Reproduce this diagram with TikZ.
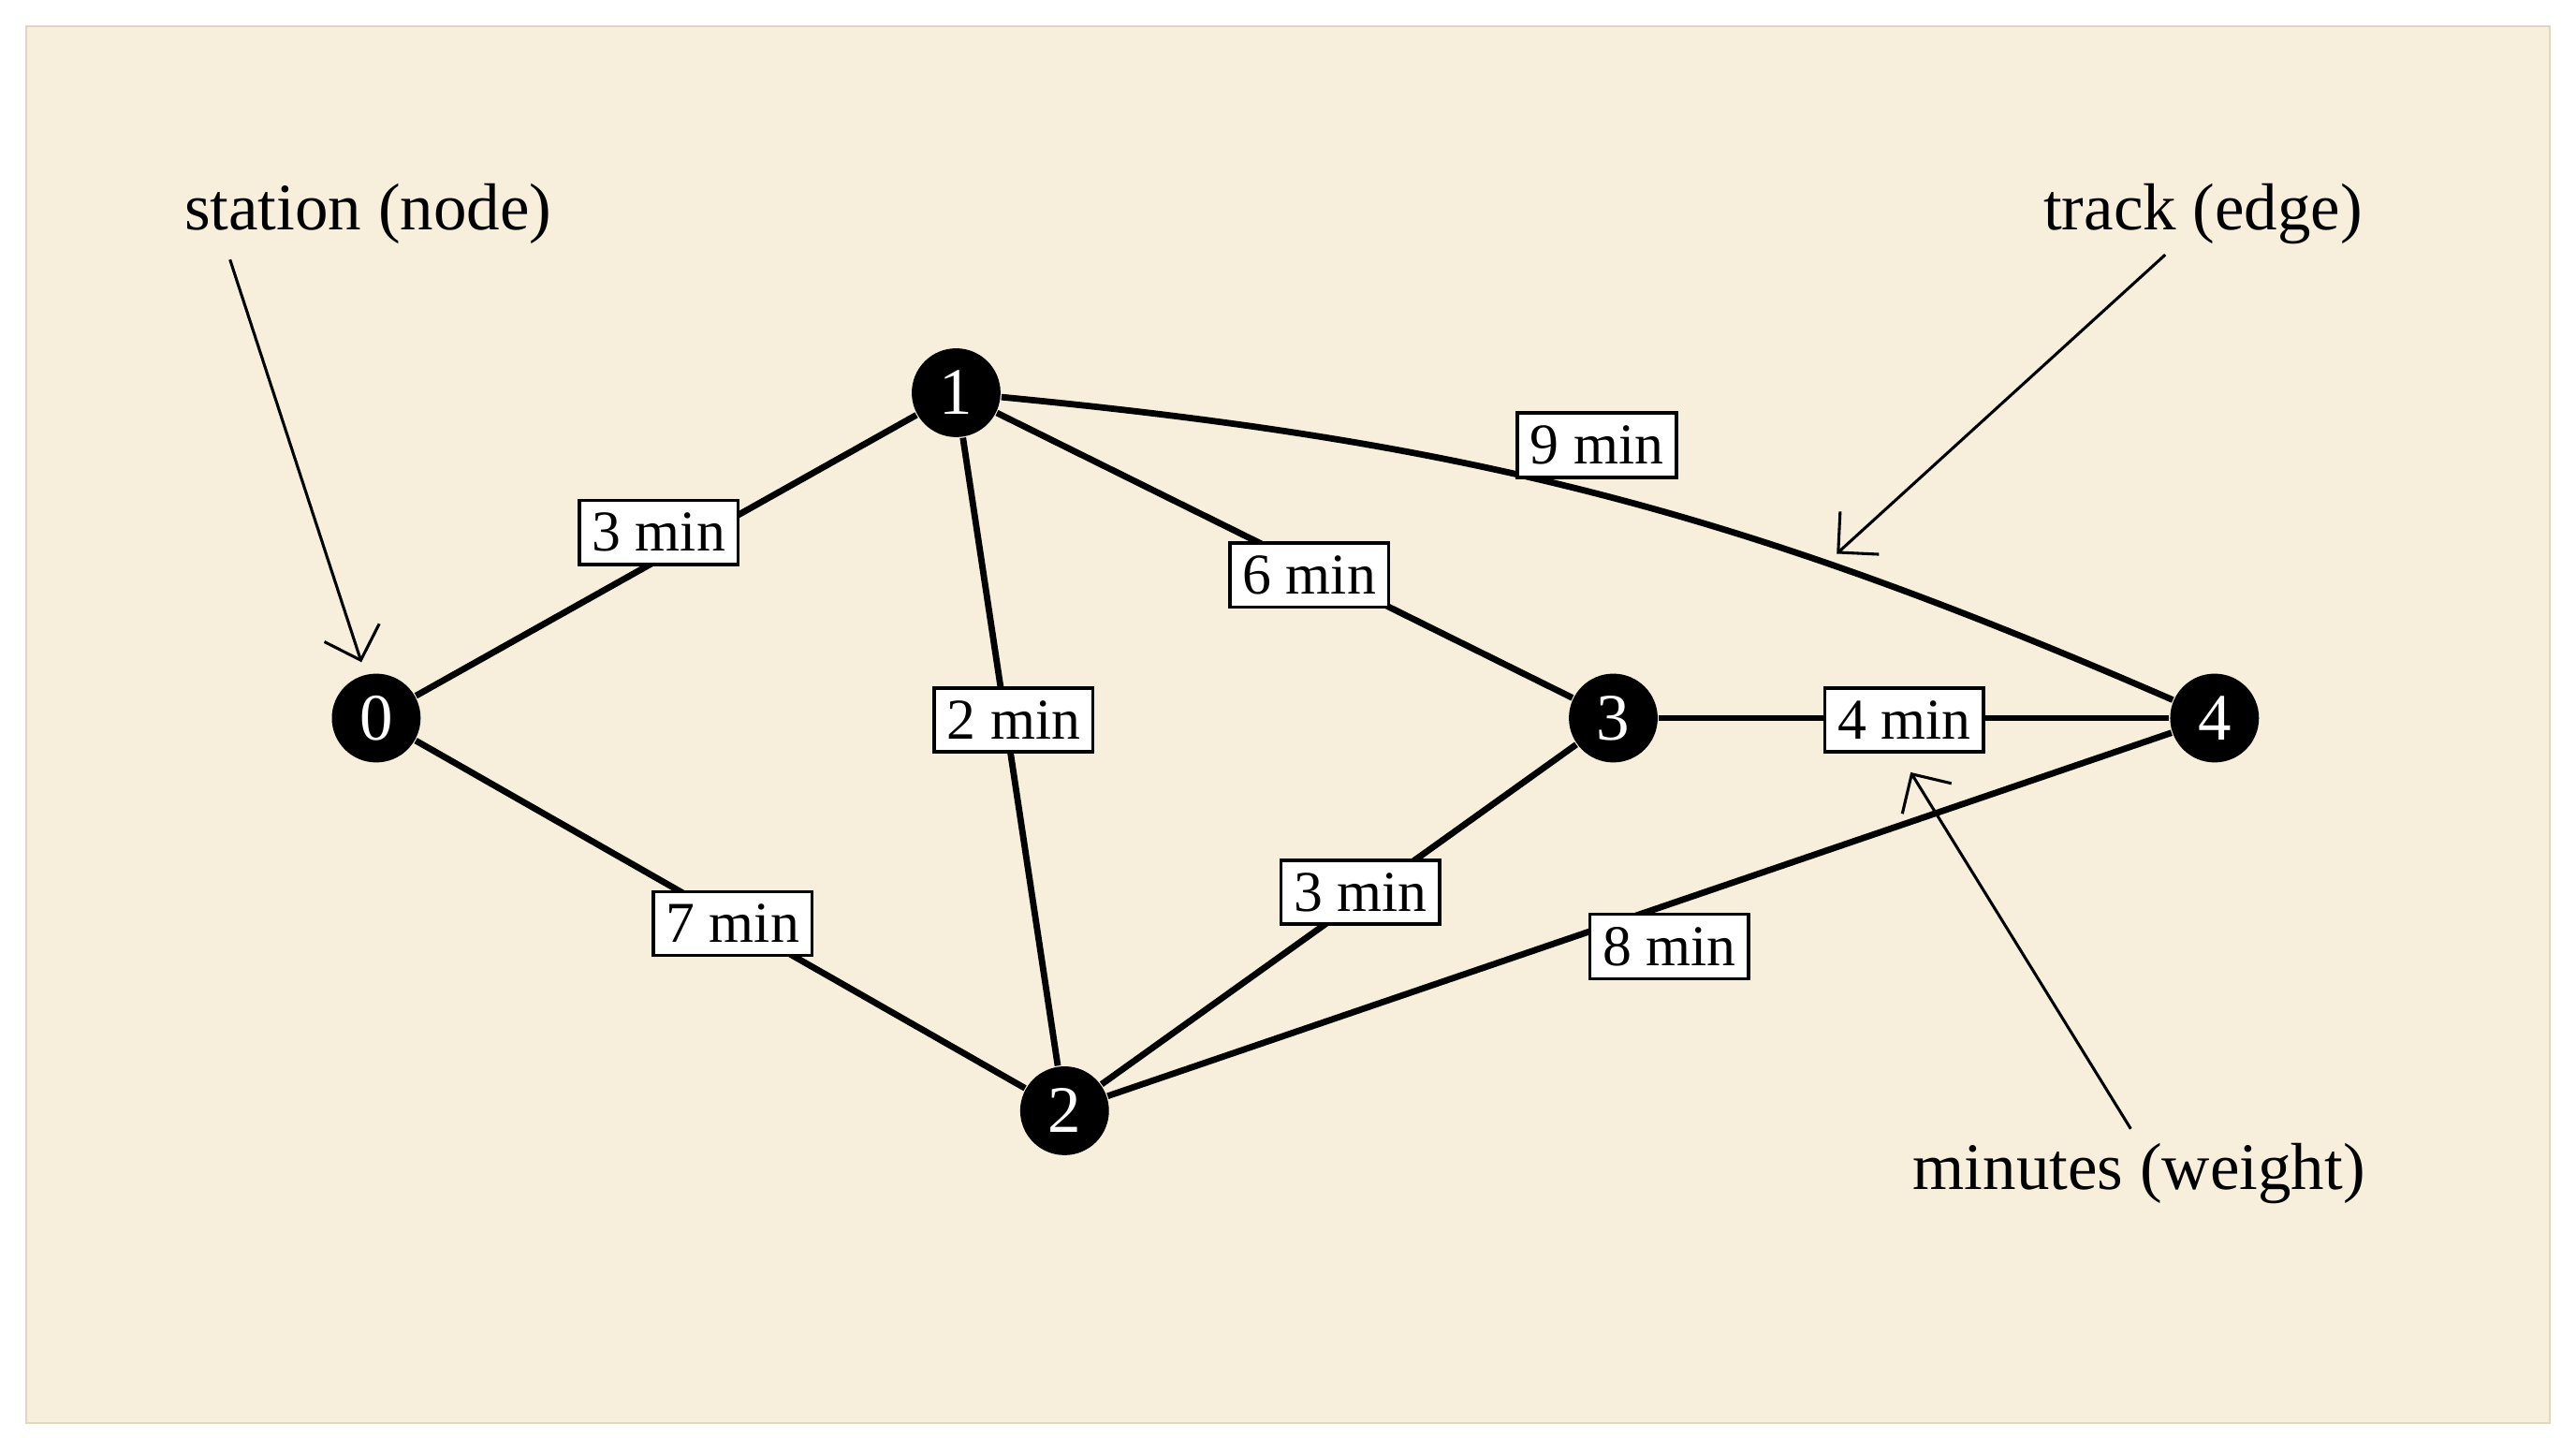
\documentclass[tikz,border=0pt]{standalone}
\usepackage{fontspec}
\setmainfont{Liberation Serif}
\usetikzlibrary{arrows.meta}
\definecolor{paper}{HTML}{F7EEDC}
\definecolor{paperedge}{HTML}{E2D6BE}
\tikzset{
  st/.style={circle,fill=black,minimum size=0.54cm,inner sep=0pt,text=white,font=\fontsize{11.5}{13}\selectfont},
  track/.style={line width=1.1pt},
  wlab/.style={draw,fill=white,line width=0.6pt,inner sep=2.2pt,font=\fontsize{10}{12}\selectfont},
  ann/.style={font=\fontsize{11.5}{13}\selectfont},
  annarr/.style={-{Straight Barb[length=5pt]},line width=0.5pt}
}
\begin{document}
\begin{tikzpicture}[x=0.01cm,y=-0.01cm]
\useasboundingbox (0,0) rectangle (1568,875);
\fill[white] (0,0) rectangle (1568,875);
\fill[paper,draw=paperedge] (16,16) rectangle (1552,866);
\node[st] (n0) at (229,437) {0};
\node[st] (n1) at (582,239) {1};
\node[st] (n2) at (648,676) {2};
\node[st] (n3) at (982,437) {3};
\node[st] (n4) at (1348,437) {4};
\draw[track] (n0) -- (n1);
\draw[track] (n0) -- (n2);
\draw[track] (n1) -- (n2);
\draw[track] (n1) -- (n3);
\draw[track] (n1) to[bend left=9] (n4);
\draw[track] (n2) -- (n3);
\draw[track] (n2) -- (n4);
\draw[track] (n3) -- (n4);
\node[wlab] (w01) at (401,324) {3 min};
\node[wlab] (w14) at (972,271) {9 min};
\node[wlab] (w13) at (797,350) {6 min};
\node[wlab] (w12) at (617,438) {2 min};
\node[wlab] (w34) at (1159,438) {4 min};
\node[wlab] (w23) at (828,543) {3 min};
\node[wlab] (w02) at (446,562) {7 min};
\node[wlab] (w24) at (1016,576) {8 min};
\node[ann] (a1) at (224,130) {station (node)};
\node[ann] (a2) at (1341,130) {track (edge)};
\node[ann] (a3) at (1302,714) {minutes (weight)};
\coordinate (t1) at (220,403);
\coordinate (t2) at (1118,337);
\coordinate (t3) at (1163,470);
\draw[annarr] (140,158) -- (t1);
\draw[annarr] (1318,155) -- (t2);
\draw[annarr] (1297,687) -- (t3);
\end{tikzpicture}
\end{document}
